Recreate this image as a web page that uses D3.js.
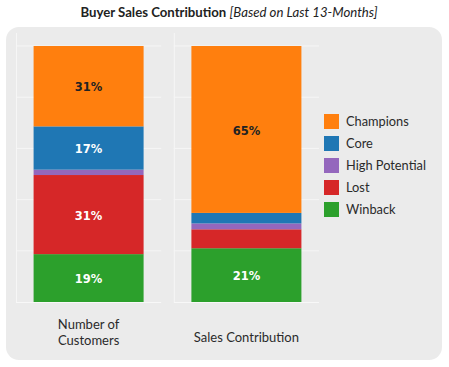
<!DOCTYPE html>
<html>
<head>
<meta charset="utf-8">
<script src="https://cdn.jsdelivr.net/npm/d3@7.9.0/dist/d3.min.js"></script>
<style>
  body { margin: 0; background: #fff; }
  svg { display: block; }
</style>
</head>
<body>
<svg id="chart" width="449" height="367"></svg>
<script>
// segments, top to bottom
const segments = ['Champions', 'Core', 'High Potential', 'Lost', 'Winback'];
const measures = ['Number of Customers', 'Sales Contribution'];
const customerShare = [31.4, 16.9, 2.1, 30.9, 18.7];
const salesShare = [65.2, 4.1, 2.3, 7.4, 21.0];
const yTicks = [0, 20, 40, 60, 80, 100];

const colors = d3.scaleOrdinal()
    .domain(segments)
    .range(['#ff7f0e', '#1f77b4', '#9467bd', '#d62728', '#2ca02c']);

const rows = measures.map((m, i) => {
    const vals = i === 0 ? customerShare : salesShare;
    const row = { measure: m };
    segments.forEach((s, j) => row[s] = vals[j]);
    return row;
});

const svg = d3.select('#chart');

// title
const title = svg.append('text')
    .attr('x', 229).attr('y', 16.5)
    .attr('text-anchor', 'middle')
    .style('font-family', 'Lato, sans-serif')
    .style('font-size', '13.2px')
    .attr('fill', '#222');
title.append('tspan').style('font-weight', 'bold').text('Buyer Sales Contribution ');
title.append('tspan').style('font-style', 'italic').text('[Based on Last 13-Months]');

// background panel
svg.append('rect')
    .attr('x', 6).attr('y', 27)
    .attr('width', 436).attr('height', 333)
    .attr('rx', 13)
    .attr('fill', '#ebebeb');

const y = d3.scaleLinear().domain([0, 100]).range([302, 46]);

// each measure gets its own pane
const pane = d3.scaleBand().domain(measures).range([16, 319]).paddingInner(0.08);
const barW = 110;

// stack from bottom: Winback first
const stack = d3.stack().keys(segments.slice().reverse());
const series = stack(rows);

const grid = svg.append('g');
measures.forEach(m => {
    const x0 = pane(m), x1 = x0 + pane.bandwidth();
    grid.selectAll(null)
        .data(yTicks.slice(1))
        .enter().append('line')
        .attr('x1', x0).attr('x2', x1)
        .attr('y1', d => y(d)).attr('y2', d => y(d))
        .attr('stroke', '#f6f6f6').attr('stroke-width', 1);
    grid.append('line')
        .attr('x1', x0 + 0.5).attr('x2', x0 + 0.5)
        .attr('y1', 33).attr('y2', y(0))
        .attr('stroke', '#f6f6f6');
    grid.append('line')
        .attr('x1', x0).attr('x2', x1)
        .attr('y1', y(0) + 0.5).attr('y2', y(0) + 0.5)
        .attr('stroke', '#f8f8f8');
});

const barX = m => pane(m) + (pane.bandwidth() - barW) / 2;

const layers = svg.append('g').selectAll('g')
    .data(series)
    .enter().append('g')
    .attr('fill', d => colors(d.key));

layers.selectAll('rect')
    .data(d => d)
    .enter().append('rect')
    .attr('x', d => barX(d.data.measure))
    .attr('y', d => y(d[1]))
    .attr('width', barW)
    .attr('height', d => y(d[0]) - y(d[1]));

// labels for bigger segments
layers.each(function(s) {
    d3.select(this).selectAll('text')
        .data(s.filter(d => d[1] - d[0] >= 10))
        .enter().append('text')
        .attr('x', d => barX(d.data.measure) + barW / 2)
        .attr('y', d => (y(d[0]) + y(d[1])) / 2 + 1)
        .attr('dy', '0.36em')
        .attr('text-anchor', 'middle')
        .style('font-family', '"DejaVu Sans", sans-serif')
        .style('font-weight', 'bold')
        .style('font-size', '11.5px')
        .attr('fill', s.key === 'Champions' ? '#222' : '#fff')
        .text(d => Math.round(d[1] - d[0]) + '%');
});

// x labels
const xLabels = [['Number of', 'Customers'], ['Sales Contribution']];
measures.forEach((m, i) => {
    const lines = xLabels[i];
    const t = svg.append('text')
        .attr('text-anchor', 'middle')
        .style('font-family', 'Lato, sans-serif')
        .style('font-size', '13px')
        .attr('fill', '#2a2a2a');
    lines.forEach((l, k) => {
        t.append('tspan')
            .attr('x', pane(m) + pane.bandwidth() / 2)
            .attr('y', lines.length > 1 ? 328.5 + k * 16 : 341.5)
            .text(l);
    });
});

// legend
const legend = svg.append('g').selectAll('g')
    .data(segments)
    .enter().append('g')
    .attr('transform', (d, i) => `translate(324, ${114 + i * 22})`);
legend.append('rect')
    .attr('width', 15).attr('height', 15)
    .attr('fill', d => colors(d));
legend.append('text')
    .attr('x', 22).attr('y', 8)
    .attr('dy', '0.35em')
    .style('font-family', 'Lato, sans-serif')
    .style('font-size', '12.8px')
    .attr('fill', '#2a2a2a')
    .text(d => d);
</script>
</body>
</html>
